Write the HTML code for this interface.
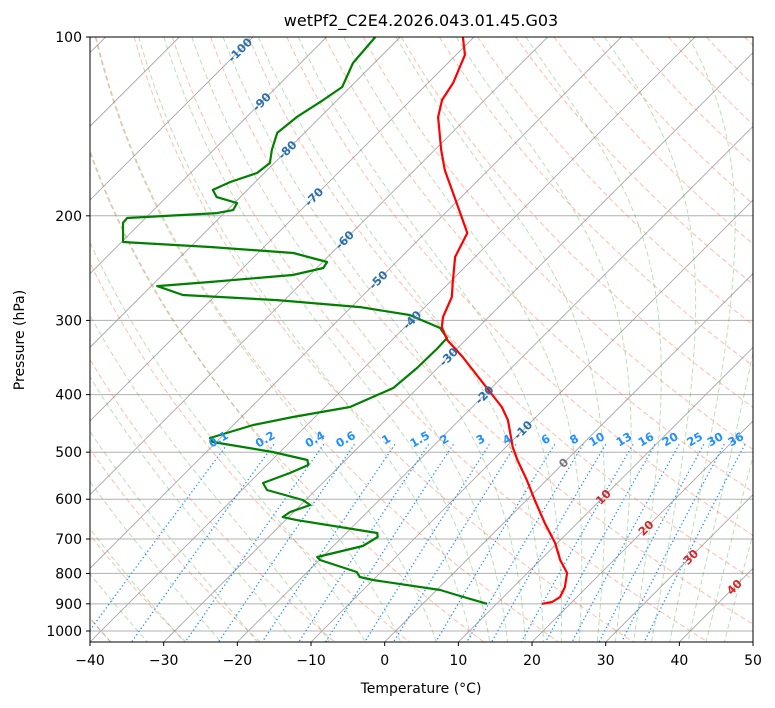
<!DOCTYPE html>
<html><head><meta charset="utf-8">
<style>
html,body{margin:0;padding:0;background:#fff;}
svg{display:block;font-family:"DejaVu Sans","Liberation Sans",sans-serif;}
</style></head>
<body>
<svg id="chart" width="775" height="708" viewBox="0 0 775 708" xmlns="http://www.w3.org/2000/svg">
<defs><clipPath id="plotclip"><rect x="90" y="37" width="663" height="605"/></clipPath></defs>
<rect x="0" y="0" width="775" height="708" fill="#fff"/>
<g id="bg" clip-path="url(#plotclip)"></g>
<g id="profiles" clip-path="url(#plotclip)"></g>
<g id="labels"></g>
<rect x="90" y="37" width="663" height="605" fill="none" stroke="#000" stroke-width="1"/>
<g id="axes"></g>
<text x="421" y="26" text-anchor="middle" font-size="16">wetPf2_C2E4.2026.043.01.45.G03</text>
<text x="421" y="693" text-anchor="middle" font-size="14">Temperature (°C)</text>
<text x="24" y="340" text-anchor="middle" font-size="14" transform="rotate(-90 24 340)">Pressure (hPa)</text>
</svg>
<script>
// ---- data ----
const tempPressure = [100,107.2,119.5,127.6,136.4,155.0,167.5,190.4,213.8,234.6,259.5,274.1,296.1,307.8,323.7,345.7,389.9,419.7,441.4,490.0,515.3,557.0,601.9,658.2,711.0,759.5,798.7,843.2,876.6,893.7,900];
const tempValues = [-71.5,-68.8,-66.6,-65.8,-64.0,-59.1,-55.9,-49.8,-44.3,-42.7,-39.5,-37.7,-36.2,-35.0,-32.5,-28.1,-20.6,-16.0,-13.4,-9.1,-6.7,-2.7,1.1,5.6,9.7,12.7,15.4,17.0,17.7,17.3,16.2];
const dewPressure = [100,110.6,121.4,127.6,136.4,145.0,155.0,163.0,169.4,175.4,180.9,186.0,190.4,195.6,197.9,201.7,205.6,221.4,225.7,231.0,239.2,244.8,251.6,258.5,262.6,271.9,277.3,284.9,293.8,309.0,321.2,333.9,360.8,389.9,419.7,436.3,450.0,473.3,480.6,499.6,515.3,525.4,542.0,563.5,579.0,601.9,613.7,630.6,643.0,650.5,683.9,694.7,719.3,750.6,759.5,795.6,811.2,820.6,853.1,869.8,900];
const dewValues = [-83.4,-82.9,-81.1,-81.9,-83.2,-83.7,-82.1,-80.6,-81.0,-83.4,-84.7,-83.2,-79.6,-79.2,-81.0,-92.5,-92.4,-89.8,-77.3,-65.2,-59.4,-59.1,-62.3,-72.6,-79.2,-74.5,-61.0,-48.8,-41.0,-35.1,-32.8,-32.7,-32.8,-33.3,-36.6,-43.0,-47.3,-51.4,-50.5,-41.0,-35.2,-34.4,-35.8,-38.1,-36.6,-30.4,-28.7,-30.5,-30.8,-28.5,-15.8,-15.2,-16.0,-20.7,-19.9,-13.3,-12.2,-10.0,0.5,3.4,8.7];
const xTicks = [-40,-30,-20,-10,0,10,20,30,40,50];
const yTicks = [100,200,300,400,500,600,700,800,900,1000];
const mixingRatios = [0.1,0.2,0.4,0.6,1,1.5,2,3,4,6,8,10,13,16,20,25,30,36];
const isoLabelTemps = [-100,-90,-80,-70,-60,-50,-40,-30,-20,-10,0,10,20,30,40];
const isoLabelRows = [50,102,150,197,240,280,320,357,395,430,463,497,528,557,587];

// ---- axes ----
const NS="http://www.w3.org/2000/svg";
const PX=7.367, XL=90, YB=642;
function Y(p){return 37+594*Math.log10(p/100);}
function X(T,p){return XL+(T+40)*PX+(YB-Y(p));}
function mk(tag,attrs,parent){const e=document.createElementNS(NS,tag);for(const k in attrs)e.setAttribute(k,attrs[k]);parent.appendChild(e);return e;}
const bg=document.getElementById('bg'), prof=document.getElementById('profiles'), lab=document.getElementById('labels'), axes=document.getElementById('axes');
const pLev=[];for(let p=100;p<=1050;p+=10)pLev.push(p);
function poly(pts){return pts.map((q,i)=>(i?'L':'M')+q[0].toFixed(1)+' '+q[1].toFixed(1)).join(' ');}

yTicks.forEach(p=>{
  const l=mk('line',{x1:90,x2:753,y1:Y(p),y2:Y(p),stroke:'#b0b0b0','stroke-width':1},bg);
  
  
});
for(let T=-160;T<=50;T+=10){
  const l=mk('line',{x1:X(T,1050),y1:Y(1050),x2:X(T,100),y2:Y(100),stroke:'#a8a8a8','stroke-width':0.9},bg);
  
  
}
for(let t0=-40;t0<=200;t0+=10){
  const pts=pLev.map(p=>[X((t0+273.15)*Math.pow(p/1000,0.2857)-273.15,p),Y(p)]);
  const l=mk('path',{d:poly(pts),fill:'none',stroke:'rgba(250,110,70,0.45)','stroke-width':1,'stroke-dasharray':'5,3'},bg);
  
  
}
function es(T){const c=T-273.15;return 6.112*Math.exp(17.67*c/(c+243.5));}
function dTdlnp(T,p){const e=es(T);const rs=0.622*e/(p-e);return (287.04*T+2.501e6*rs)/(1005.7+2.501e6*2.501e6*rs*0.622/(287.04*T*T));}
function moist(t0){
  const res={};let T=t0+273.15;res[1000]=T;
  for(let p=1000;p>100;p-=2){const h=Math.log((p-2)/p);const k1=dTdlnp(T,p),k2=dTdlnp(T+h*k1/2,p-1),k3=dTdlnp(T+h*k2/2,p-1),k4=dTdlnp(T+h*k3,p-2);T+=h*(k1+2*k2+2*k3+k4)/6;res[p-2]=T;}
  T=t0+273.15;for(let p=1000;p<1050;p+=2){const h=Math.log((p+2)/p);T+=h*dTdlnp(T,p);res[p+2]=T;}
  return res;
}
const moistT0=[];for(let t=-40;t<=10;t+=5)moistT0.push(t);for(let t=12.5;t<=45;t+=2.5)moistT0.push(t);
moistT0.forEach(t0=>{
  const r=moist(t0);const pts=[];for(let p=100;p<=1050;p+=2){if(r[p]!==undefined)pts.push([X(r[p]-273.15,p),Y(p)]);}
  const l=mk('path',{d:poly(pts),fill:'none',stroke:'rgba(60,160,60,0.35)','stroke-width':1,'stroke-dasharray':'5,3'},bg);
  
  
});
function tdFromW(w,p){const ww=w/1000;const e=p*ww/(0.622+ww);const a=Math.log(e/6.112);return 243.5*a/(17.67-a);}
mixingRatios.forEach(w=>{
  const pts=[];for(let p=485;p<=1050;p+=5)pts.push([X(tdFromW(w,p),p),Y(p)]);
  const l=mk('path',{d:poly(pts),fill:'none',stroke:'#1e90ff','stroke-width':1.3,'stroke-dasharray':'1.3,2.6'},bg);
  
  
  const lx=X(tdFromW(w,482),482)-8, ly=Y(482);
  const t=mk('text',{x:lx,y:ly,'text-anchor':'middle','font-size':11.5,'font-weight':'bold',fill:'#1e90ff',transform:`rotate(-30 ${lx} ${ly})`},lab);
  t.textContent=String(w);
  
  
});
isoLabelTemps.forEach((T,i)=>{
  const yy=isoLabelRows[i];const xx=XL+(T+40)*PX+(YB-yy);
  const col=T<0?'#2a6fad':(T===0?'#777':'#d62728');
  const t=mk('text',{x:xx,y:yy+4,'text-anchor':'middle','font-size':11.5,'font-weight':'bold',fill:col,transform:`rotate(-45 ${xx} ${yy})`},lab);
  t.textContent=String(T);
  
  
});
const dewPath=mk('path',{d:poly(dewPressure.map((p,i)=>[X(dewValues[i],p),Y(p)])),fill:'none',stroke:'#008000','stroke-width':2.2,'stroke-linejoin':'round'},prof);


const tPath=mk('path',{d:poly(tempPressure.map((p,i)=>[X(tempValues[i],p),Y(p)])),fill:'none',stroke:'#ff0000','stroke-width':2.2,'stroke-linejoin':'round'},prof);


xTicks.forEach(T=>{
  const x=XL+(T+40)*PX;
  const l=mk('line',{x1:x,x2:x,y1:642,y2:646,stroke:'#000','stroke-width':1},axes);
  
  
  const t=mk('text',{x:x,y:665,'text-anchor':'middle','font-size':14},axes);
  t.textContent=T<0?'\u2212'+(-T):String(T);
  
  
});
yTicks.forEach(p=>{
  const y=Y(p);
  const l=mk('line',{x1:86,x2:90,y1:y,y2:y,stroke:'#000','stroke-width':1},axes);
  
  
  const t=mk('text',{x:82,y:y+5,'text-anchor':'end','font-size':14},axes);
  t.textContent=String(p);
  
  
});
</script>
</body></html>
